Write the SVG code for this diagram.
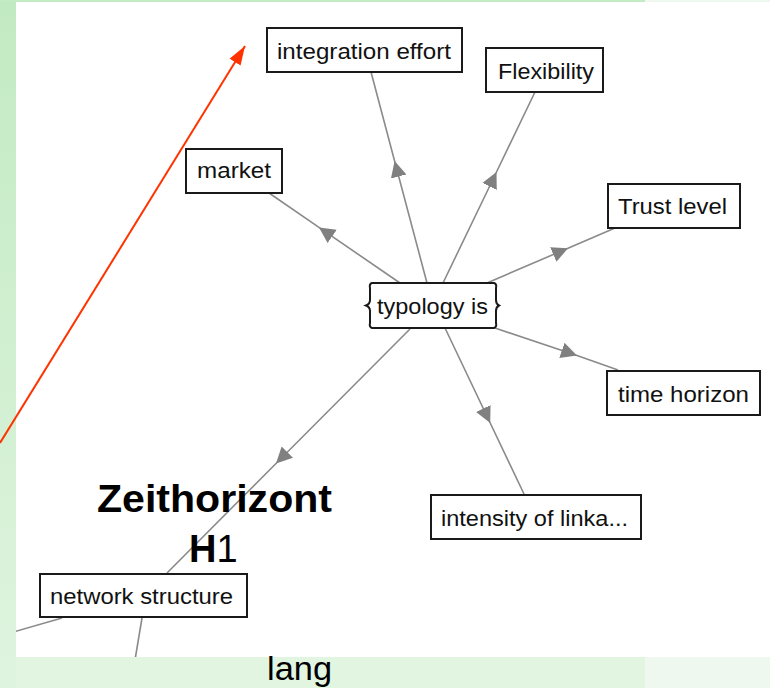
<svg xmlns="http://www.w3.org/2000/svg" width="770" height="688" viewBox="0 0 770 688">
<style>
.box{fill:#fff;stroke:#1a1a1a;stroke-width:2}
.lbl{font-family:"Liberation Sans",Arial,sans-serif;font-size:22px;fill:#111}
.edge{stroke:#8a8a8a;stroke-width:1.6;fill:none}
.big{font-family:"Liberation Sans",Arial,sans-serif;fill:#000}
</style>
<defs>
<linearGradient id="lg" x1="0" y1="0" x2="0" y2="1">
<stop offset="0" stop-color="#c2eac2"/>
<stop offset="1" stop-color="#dff4df"/>
</linearGradient>
<marker id="ah" markerUnits="userSpaceOnUse" markerWidth="18" markerHeight="18" viewBox="0 -9 18 18" refX="16" refY="0" orient="auto">
<path d="M0,-8 L16,0 L0,8 Z" fill="#808080"/>
</marker>
<marker id="rh" markerUnits="userSpaceOnUse" markerWidth="20" markerHeight="16" viewBox="0 -8 20 16" refX="19" refY="0" orient="auto">
<path d="M0,-6.5 L19,0 L0,6.5 Z" fill="#ff3300"/>
</marker>
<clipPath id="panel"><rect x="16" y="2" width="754" height="655"/></clipPath>
</defs>
<g id="background">
<rect x="0" y="0" width="770" height="688" fill="#e1f5e1"/>
<rect x="0" y="0" width="16" height="688" fill="url(#lg)"/>
<rect x="0" y="0" width="645" height="2" fill="#c4ecc4"/>
<rect x="645" y="0" width="125" height="2" fill="#eef8ee"/>
<rect x="645" y="657" width="125" height="31" fill="#eef8ee"/>
<rect x="16" y="2" width="754" height="655" fill="#fff"/>
</g>
<g id="connectors" clip-path="url(#panel)">
<path class="edge" d="M427,283 L394.6,161 L371,72" marker-mid="url(#ah)"/>
<path class="edge" d="M443,283 L496.5,172 L535,92" marker-mid="url(#ah)"/>
<path class="edge" d="M400,283 L319,227.4 L269,193" marker-mid="url(#ah)"/>
<path class="edge" d="M487,283 L568,248.2 L615,228" marker-mid="url(#ah)"/>
<path class="edge" d="M495,328 L577,355.6 L618,370" marker-mid="url(#ah)"/>
<path class="edge" d="M445,328 L490.2,423 L524,494" marker-mid="url(#ah)"/>
<path class="edge" d="M410,329 L276,463.5 L167,573" marker-mid="url(#ah)"/>
<path class="edge" d="M62,618 L10,633"/>
<path class="edge" d="M142,618 L135,660"/>
</g>
<g id="node-integration-effort">
<rect class="box" x="267" y="28" width="195" height="44"/>
<text class="lbl" x="277" y="59" textLength="174" lengthAdjust="spacingAndGlyphs">integration effort</text>
</g>
<g id="node-flexibility">
<rect class="box" x="486" y="48" width="117" height="44"/>
<text class="lbl" x="498" y="79" textLength="96" lengthAdjust="spacingAndGlyphs">Flexibility</text>
</g>
<g id="node-market">
<rect class="box" x="186" y="149" width="96" height="44"/>
<text class="lbl" x="197" y="178" textLength="74" lengthAdjust="spacingAndGlyphs">market</text>
</g>
<g id="node-trust-level">
<rect class="box" x="608" y="184" width="132" height="44"/>
<text class="lbl" x="618" y="214" textLength="109" lengthAdjust="spacingAndGlyphs">Trust level</text>
</g>
<g id="node-typology-is">
<path class="box" d="M372,283 L494,283 Q497,284 496,288 L496,300 Q496,304 499,305.5 Q496,307 496,311 L496,323 Q497,327 494,328 L372,328 Q369,327 370,323 L370,311 Q370,307 366,305.5 Q370,304 370,300 L370,288 Q369,284 372,283 Z"/>
<text class="lbl" x="377" y="314" textLength="111" lengthAdjust="spacingAndGlyphs">typology is</text>
</g>
<g id="node-time-horizon">
<rect class="box" x="607" y="371" width="153" height="44"/>
<text class="lbl" x="618" y="402" textLength="131" lengthAdjust="spacingAndGlyphs">time horizon</text>
</g>
<g id="node-intensity">
<rect class="box" x="431" y="495" width="210" height="44"/>
<text class="lbl" x="441" y="526" textLength="187" lengthAdjust="spacingAndGlyphs">intensity of linka...</text>
</g>
<g id="node-network-structure">
<rect class="box" x="40" y="574" width="207" height="43"/>
<text class="lbl" x="50" y="604" textLength="183" lengthAdjust="spacingAndGlyphs">network structure</text>
</g>
<g id="red-arrow">
<line x1="0" y1="443" x2="245" y2="46" stroke="#ff3300" stroke-width="2" marker-end="url(#rh)"/>
</g>
<g id="labels">
<text class="big" x="97" y="512" font-size="38" font-weight="bold" textLength="235" lengthAdjust="spacingAndGlyphs">Zeithorizont</text>
<text class="big" x="189" y="562" font-size="38"><tspan font-weight="bold">H</tspan>1</text>
<text class="big" x="267" y="680" font-size="33" textLength="65" lengthAdjust="spacingAndGlyphs">lang</text>
</g>
</svg>
